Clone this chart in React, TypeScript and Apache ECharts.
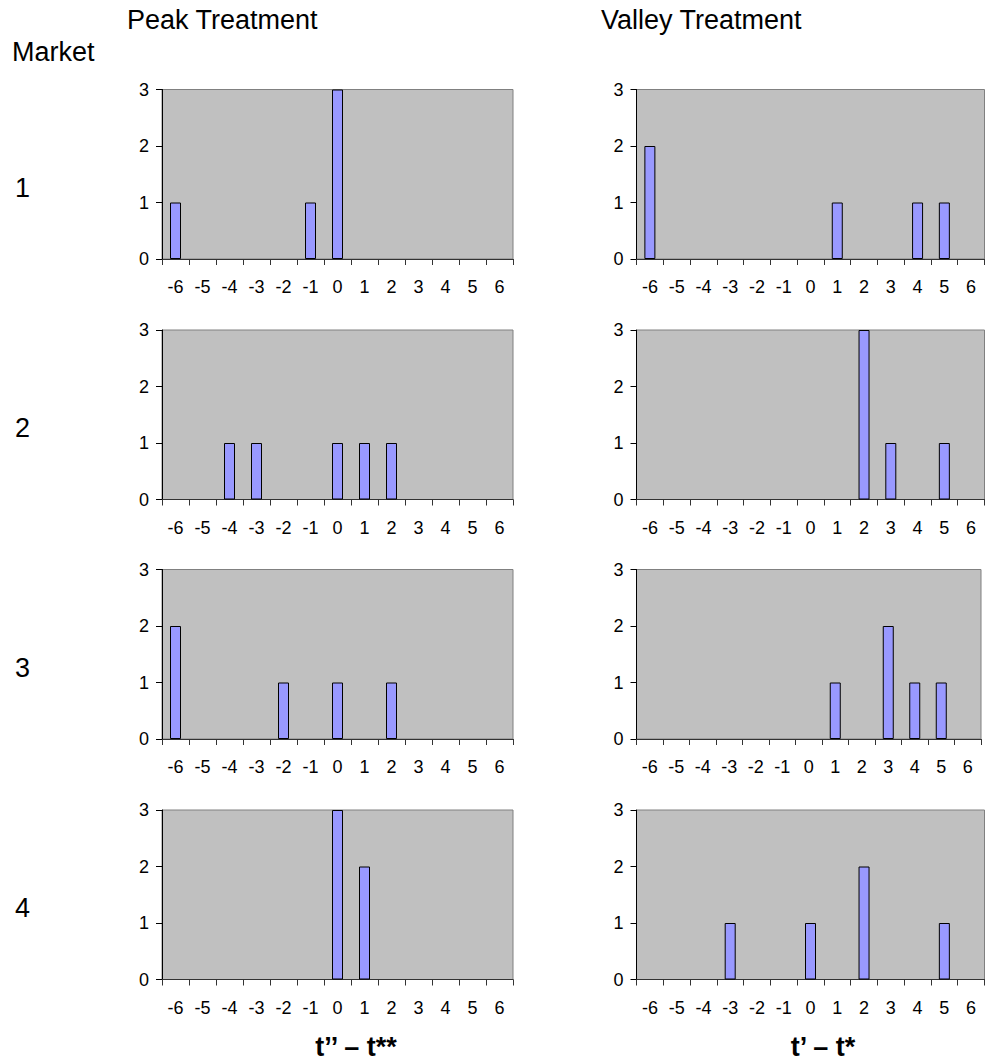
import React, { useEffect, useRef } from "react";
import * as echarts from "echarts";

const categories = ["-6", "-5", "-4", "-3", "-2", "-1", "0", "1", "2", "3", "4", "5", "6"];
const yTicks = [0, 1, 2, 3];

// Counts per category (-6 .. 6)
const peakMarket1 = [1, 0, 0, 0, 0, 1, 3, 0, 0, 0, 0, 0, 0];
const peakMarket2 = [0, 0, 1, 1, 0, 0, 1, 1, 1, 0, 0, 0, 0];
const peakMarket3 = [2, 0, 0, 0, 1, 0, 1, 0, 1, 0, 0, 0, 0];
const peakMarket4 = [0, 0, 0, 0, 0, 0, 3, 2, 0, 0, 0, 0, 0];

const valleyMarket1 = [2, 0, 0, 0, 0, 0, 0, 1, 0, 0, 1, 1, 0];
const valleyMarket2 = [0, 0, 0, 0, 0, 0, 0, 0, 3, 1, 0, 1, 0];
const valleyMarket3 = [0, 0, 0, 0, 0, 0, 0, 1, 0, 2, 1, 1, 0];
const valleyMarket4 = [0, 0, 0, 1, 0, 0, 1, 0, 2, 0, 0, 1, 0];

const columnTitles = ["Peak Treatment", "Valley Treatment"];
const rowTitle = "Market";
const rowLabels = ["1", "2", "3", "4"];
const axisTitles = ["t\u2019\u2019 \u2013 t**", "t\u2019 \u2013 t*"];

const FONT = 'Arial, "Liberation Sans", sans-serif';

export default function App() {
  const ref = useRef<HTMLDivElement>(null);

  useEffect(() => {
    if (!ref.current) return;
    const chart = echarts.init(ref.current, null, { renderer: "svg" });

    const peak = [peakMarket1, peakMarket2, peakMarket3, peakMarket4];
    const valley = [valleyMarket1, valleyMarket2, valleyMarket3, valleyMarket4];
    const tops = [89.5, 330, 569.5, 810];
    const gridH = 169.5;
    const cols = [
      { left: 162, width: 351, data: peak },
      { left: 636.5, width: 348, data: valley },
    ];

    const grids: any[] = [];
    const xAxes: any[] = [];
    const yAxes: any[] = [];
    const series: any[] = [];
    let idx = 0;
    cols.forEach((c, ci) => {
      tops.forEach((top, ri) => {
        const w = ci === 1 && ri === 2 ? 344.5 : c.width;
        grids.push({
          left: c.left,
          top,
          width: w,
          height: gridH,
          show: true,
          backgroundColor: "#C0C0C0",
          borderColor: "#808080",
          borderWidth: 1,
        });
        xAxes.push({
          type: "category",
          gridIndex: idx,
          data: categories,
          boundaryGap: true,
          axisLine: { show: true, lineStyle: { color: "#333", width: 1 } },
          axisTick: { show: true, length: 6, inside: false, lineStyle: { color: "#333" } },
          axisLabel: { interval: 0, fontSize: 18, color: "#000", margin: 19, fontFamily: FONT },
          splitLine: { show: false },
        });
        yAxes.push({
          type: "value",
          gridIndex: idx,
          min: yTicks[0],
          max: yTicks[yTicks.length - 1],
          interval: 1,
          axisLine: { show: true, lineStyle: { color: "#000", width: 1 } },
          axisTick: { show: true, length: 6, inside: false, lineStyle: { color: "#000" } },
          axisLabel: { fontSize: 18, color: "#000", margin: 13, fontFamily: FONT },
          splitLine: { show: false },
        });
        series.push({
          type: "bar",
          xAxisIndex: idx,
          yAxisIndex: idx,
          data: c.data[ri].map((v) => (v === 0 ? "-" : v)),
          barWidth: 11,
          itemStyle: { color: "#9999FF", borderColor: "#000", borderWidth: 1 },
          silent: true,
        });
        idx++;
      });
    });

    const bigText = (text: string, x: number, y: number, extra: any = {}) => ({
      type: "text",
      x,
      y,
      style: {
        text,
        fontSize: 27,
        fontFamily: FONT,
        fill: "#000",
        textVerticalAlign: "middle",
        verticalAlign: "middle",
        ...extra,
      },
    });

    const graphics: any[] = [
      bigText(columnTitles[0], 127, 20),
      bigText(columnTitles[1], 601, 20),
      bigText(rowTitle, 12, 52),
      ...rowLabels.map((t, i) => bigText(t, 15, 188 + i * 240)),
      bigText(axisTitles[0], 356, 1047, { fontWeight: "bold", align: "center", textAlign: "center" }),
      bigText(axisTitles[1], 823, 1047, { fontWeight: "bold", align: "center", textAlign: "center" }),
    ];

    chart.setOption({
      animation: false,
      backgroundColor: "#fff",
      grid: grids,
      xAxis: xAxes,
      yAxis: yAxes,
      series,
      graphic: graphics,
    });

    return () => chart.dispose();
  }, []);

  return (
    <div
      ref={ref}
      style={{ position: "absolute", left: 0, top: 0, width: 986, height: 1063 }}
    />
  );
}
